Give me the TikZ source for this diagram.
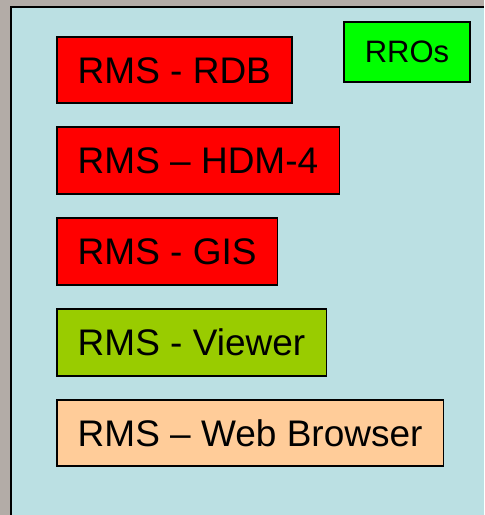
\documentclass[tikz,border=0pt]{standalone}
\usepackage{fontspec}
\setmainfont{Liberation Sans}
\usepackage{tikz}
\usetikzlibrary{shapes}
\definecolor{bggray}{HTML}{B3ACA7}
\definecolor{panelblue}{HTML}{BBE0E3}
\definecolor{rmsred}{HTML}{FF0000}
\definecolor{rrogreen}{HTML}{00FF00}
\definecolor{viewgreen}{HTML}{99CC00}
\definecolor{webpeach}{HTML}{FFCC99}

\begin{document}
\begin{tikzpicture}[x=0.5pt,y=-0.5pt,
		rmsbox/.style={draw=black,line width=0.75pt,anchor=north west,inner xsep=10.5pt,text height=13.3pt,text depth=0pt,font=\fontsize{18.5}{20}\selectfont},
		rrobox/.style={draw=black,line width=0.75pt,anchor=north west,inner xsep=10.5pt,text height=11.1pt,text depth=0pt,font=\fontsize{15.5}{17}\selectfont}]
		\useasboundingbox (0,0) rectangle (484,515);
		\fill[bggray] (0,0) rectangle (484,515);
		\fill[panelblue] (10,6) rectangle (484,515);
		\draw[line width=1pt] (11,515) -- (11,7) -- (484,7);
		\node[rmsbox,fill=rmsred,minimum height=33pt] (rdb) at (56,36) {RMS - RDB};
		\node[rmsbox,fill=rmsred,minimum height=33.5pt] (hdm) at (56,126) {RMS -- HDM-4};
		\node[rmsbox,fill=rmsred,minimum height=33.5pt] (gis) at (56,217) {RMS - GIS};
		\node[rmsbox,fill=viewgreen,minimum height=33.5pt] (viewer) at (56,308) {RMS - Viewer};
		\node[rmsbox,fill=webpeach,minimum height=33pt] (web) at (56,399) {RMS -- Web Browser};
		\node[rrobox,fill=rrogreen,minimum height=30pt] (rros) at (343,21) {RROs};
\end{tikzpicture}
\end{document}
